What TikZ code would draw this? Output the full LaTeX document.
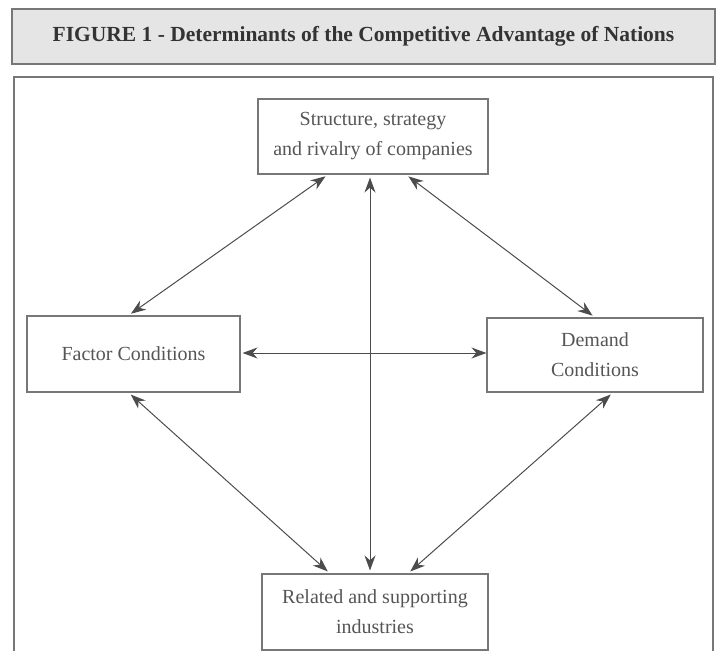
\documentclass[tikz,border=0pt]{standalone}
\usepackage{fontspec}
\setmainfont{Liberation Serif}
\usetikzlibrary{arrows.meta}
\definecolor{inkgray}{HTML}{555555}
\definecolor{linegray}{HTML}{777777}
\tikzset{
  box/.style={draw=linegray, line width=1.1pt, align=center, inner sep=0pt, text=inkgray,
    font=\fontsize{20}{30}\selectfont},
  kdet/.style={box},
  ktitle/.style={draw=linegray, line width=1.3pt, fill=black!10, minimum width=703pt, minimum height=55pt,
    font=\fontsize{21.5}{24}\selectfont\bfseries, text=black!80},
  flow/.style={{Stealth[length=15pt,width=11pt]}-{Stealth[length=15pt,width=11pt]}, draw=black!70, line width=1pt,
    shorten <=3pt, shorten >=3pt},
}
\begin{document}
\begin{tikzpicture}[x=1pt, y=-1pt]
    \useasboundingbox (0,0) rectangle (718,651);
    \node[ktitle] (title) at (363.5,36.5) {FIGURE 1 - Determinants of the Competitive Advantage of Nations};
    \coordinate (framebl) at (14,651);
    \coordinate (frametl) at (14,77);
    \coordinate (frametr) at (713,77);
    \coordinate (framebr) at (713,651);
    \draw[linegray, line width=1.3pt] (framebl) -- (frametl) -- (frametr) -- (framebr);
    \node[kdet, minimum width=230pt, minimum height=75pt] (rivalry) at (373,136.5) {Structure, strategy\\and rivalry of companies};
    \node[kdet, minimum width=213pt, minimum height=76pt] (factor) at (133.5,354) {Factor Conditions};
    \node[kdet, minimum width=216pt, minimum height=74pt] (demand) at (595,355) {Demand\\Conditions};
    \node[kdet, minimum width=226pt, minimum height=76pt] (related) at (375,612) {Related and supporting\\industries};
    \draw[flow] ([xshift=-45pt]rivalry.south) -- ([xshift=-5pt]factor.north);
    \draw[flow] ([xshift=33pt]rivalry.south) -- (demand.north);
    \draw[flow] ([xshift=-3pt]rivalry.south) -- ([xshift=-5pt]related.north);
    \draw[flow, shorten <=2pt, shorten >=0pt] ([yshift=1pt]factor.east) -- ([yshift=2pt]demand.west);
    \draw[flow] ([xshift=-5pt]factor.south) -- ([xshift=-45pt]related.north);
    \draw[flow] ([xshift=18pt]demand.south) -- ([xshift=33pt]related.north);
  \end{tikzpicture}
\end{document}
